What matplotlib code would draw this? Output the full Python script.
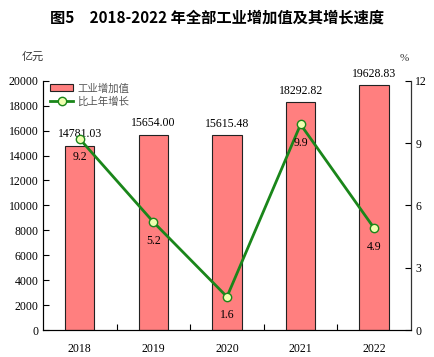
import matplotlib.pyplot as plt

years = ["2018", "2019", "2020", "2021", "2022"]
value_added = [14781.03, 15654.00, 15615.48, 18292.82, 19628.83]
growth = [9.2, 5.2, 1.6, 9.9, 4.9]

serif = ["Liberation Serif", "DejaVu Serif"]
cjk = ["Noto Sans CJK SC", "DejaVu Sans"]

fig = plt.figure(figsize=(4.34, 3.57), dpi=100)
ax = fig.add_axes([0.099, 0.0756, 0.848, 0.698])
ax2 = ax.twinx()

x = list(range(len(years)))
bars = ax.bar(x, value_added, width=0.4, color="#ff7f7f", edgecolor="#222222",
              linewidth=0.8, label="工业增加值", zorder=2)
line, = ax2.plot(x, growth, color="#1a861a", linewidth=2.0, marker="o",
                 markersize=6, markerfacecolor="#f0ffb0", markeredgecolor="#1a861a",
                 markeredgewidth=1.0, label="比上年增长", zorder=3)

for xi, v in zip(x, value_added):
    ax.annotate(f"{v:.2f}", (xi, v), xytext=(0, 4), textcoords="offset points",
                ha="center", va="bottom", fontsize=8.5, family=serif)
for xi, g in zip(x, growth):
    ax2.annotate(f"{g}", (xi, g), xytext=(0, -9), textcoords="offset points",
                 ha="center", va="top", fontsize=8.5, family=serif)

ax.set_xlim(-0.5, 4.5)
ax.set_ylim(0, 20000)
ax.set_yticks(range(0, 20001, 2000))
ax2.set_ylim(0, 12)
ax2.set_yticks([0, 3, 6, 9, 12])

ax.set_xticks(x)
ax.set_xticklabels(years)
ax.set_xticks([i + 0.5 for i in x[:-1]], minor=True)
ax.tick_params(axis="x", which="major", length=0, pad=9)
ax.tick_params(axis="x", which="minor", direction="in", length=4, width=0.8)
ax.tick_params(axis="y", direction="in", length=4, width=0.8, pad=3)
ax2.tick_params(axis="y", direction="in", length=4, width=0.8, pad=3)

for a in (ax, ax2):
    a.spines["top"].set_visible(False)
    for lbl in a.get_xticklabels() + a.get_yticklabels():
        lbl.set_family(serif)
        lbl.set_fontsize(8.5)
ax.spines["left"].set_color("#333333")
ax2.spines["right"].set_color("#333333")
ax.spines["bottom"].set_color("#333333")

fig.text(0.5, 0.95, "图5　2018-2022 年全部工业增加值及其增长速度", ha="center", va="center",
         fontsize=11, fontweight="bold", family=cjk)
fig.text(0.076, 0.84, "亿元", ha="center", va="center", fontsize=8, family=cjk, color="#333333")
fig.text(0.931, 0.835, "%", ha="center", va="center", fontsize=8, family=serif, color="#333333")

ax.legend([bars, line], ["工业增加值", "比上年增长"], loc="upper left",
          bbox_to_anchor=(0.0, 1.02), frameon=False, handlelength=2.2,
          handletextpad=0.4, labelspacing=0.3, borderaxespad=0.3,
          prop={"family": cjk, "size": 7.5}, labelcolor="#555555")

fig.savefig("out.png", dpi=100)
